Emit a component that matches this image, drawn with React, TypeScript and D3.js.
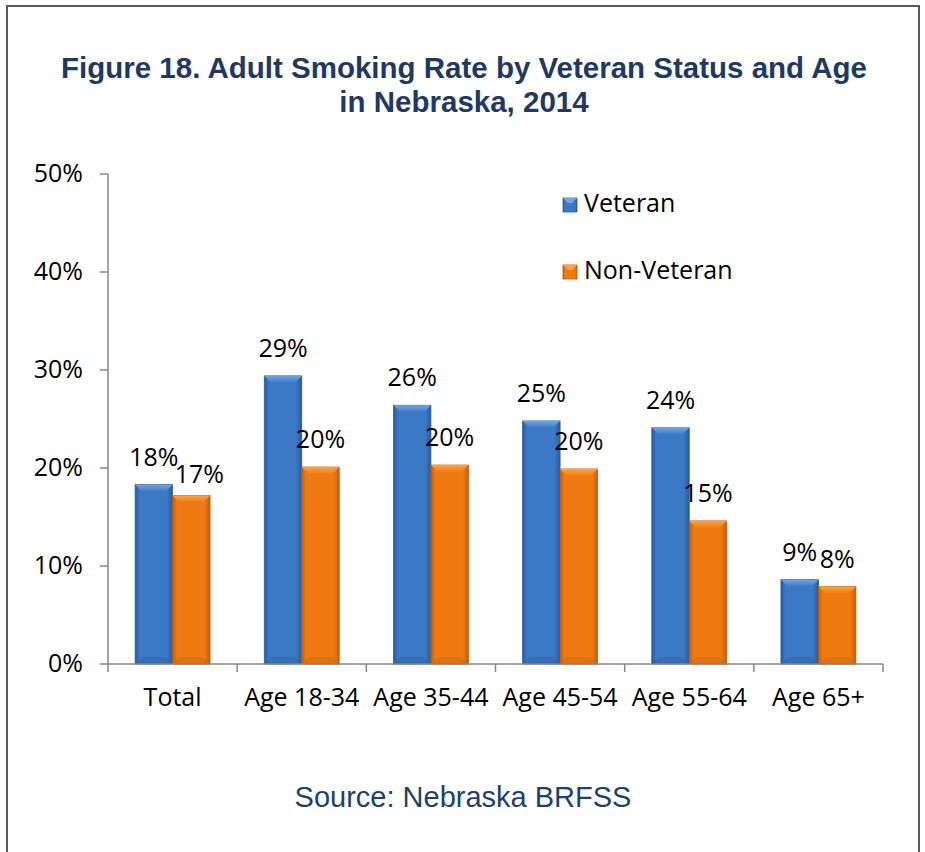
import React from "react";
import * as d3 from "d3";

const categories = ["Total", "Age 18-34", "Age 35-44", "Age 45-54", "Age 55-64", "Age 65+"];
const seriesNames = ["Veteran", "Non-Veteran"];
const veteran = [18.3, 29.4, 26.4, 24.8, 24.1, 8.6];
const nonVeteran = [17.2, 20.1, 20.3, 19.9, 14.6, 7.9];
const yTicks = [0, 10, 20, 30, 40, 50];
const titleLines = ["Figure 18. Adult Smoking Rate by Veteran Status and Age", "in Nebraska, 2014"];
const sourceText = "Source: Nebraska BRFSS";

const W = 925;
const H = 852;
const M = { left: 108, right: 883, top: 174, bottom: 664 };
const LABEL_FONT = "'Open Sans', Lato, sans-serif";
const LABEL_SIZE = 25;
const TITLE_FONT = "'Liberation Sans', Arial, sans-serif";

const palettes = [
  { main: "#3B78C6", dark: "#2A5A9A", light: "#6EA6E6", stroke: "#2C5C96" },
  { main: "#F07A12", dark: "#C55F08", light: "#FAA448", stroke: "#B85A0C" },
];

export default function App() {
  const x0 = d3.scaleBand<string>().domain(categories).range([M.left, M.right]).paddingInner(0.42).paddingOuter(0.21);
  const x1 = d3.scaleBand<string>().domain(seriesNames).range([0, x0.bandwidth()]);
  const y = d3.scaleLinear().domain([0, 50]).range([M.bottom, M.top]);
  const data = [veteran, nonVeteran];
  const step = x0.step();
  const tickXs = d3.range(categories.length + 1).map((i) => M.left + i * step);
  const bev = 7;
  const estW = (s: string) => s.length * LABEL_SIZE * 0.55;

  return (
    <svg width={W} height={H} style={{ position: "absolute", left: 0, top: 0, background: "#fff" }}>
      <defs>
        {palettes.map((p, i) => (
          <g key={i}>
            <linearGradient id={`side${i}`} x1="0" x2="1" y1="0" y2="0">
              <stop offset="0" stopColor={p.dark} />
              <stop offset="0.12" stopColor={p.main} />
              <stop offset="0.85" stopColor={p.main} />
              <stop offset="1" stopColor={p.dark} />
            </linearGradient>
            <linearGradient id={`top${i}`} x1="0" x2="0" y1="0" y2="1">
              <stop offset="0" stopColor={p.light} />
              <stop offset="1" stopColor={p.main} />
            </linearGradient>
          </g>
        ))}
      </defs>
      <rect x={0} y={0} width={W} height={H} fill="#fff" />
      <path d={`M7,${H} V6 H919 V${H}`} fill="none" stroke="#595959" strokeWidth={2} />

      {titleLines.map((t, i) => (
        <text key={i} x={464} y={78 + i * 34} textAnchor="middle" fontFamily={TITLE_FONT} fontWeight="bold" fontSize={29.5} fill="#1F3864">
          {t}
        </text>
      ))}

      {/* y axis */}
      <line x1={M.left} x2={M.left} y1={M.top} y2={M.bottom} stroke="#868686" strokeWidth={1.5} />
      {yTicks.map((t) => (
        <g key={t}>
          <line x1={M.left - 8} x2={M.left} y1={y(t)} y2={y(t)} stroke="#868686" strokeWidth={1.5} />
          <text x={83} y={y(t) + 8} textAnchor="end" fontFamily={LABEL_FONT} fontSize={LABEL_SIZE} fill="#000">
            {t}%
          </text>
        </g>
      ))}

      {/* bars */}
      {categories.map((c, ci) => {
        const labels = data.map((series, si) => {
          const v = series[ci];
          const bx = (x0(c) ?? 0) + (x1(seriesNames[si]) ?? 0);
          return { s: `${Math.round(v)}%`, cx: bx + x1.bandwidth() / 2, by: y(v) - 19 };
        });
        // simple collision avoidance between the two labels of a group
        const [a, b] = labels;
        const overlapX = (estW(a.s) + estW(b.s)) / 2 > b.cx - a.cx;
        const overlapY = Math.abs(a.by - b.by) < LABEL_SIZE * 0.8;
        if (overlapX && overlapY) {
          b.cx += 8;
          b.by += 7;
        }
        return (
          <g key={c}>
            {data.map((series, si) => {
              const v = series[ci];
              const bx = (x0(c) ?? 0) + (x1(seriesNames[si]) ?? 0);
              const bw = x1.bandwidth();
              const by = y(v);
              const bh = y(0) - by;
              const p = palettes[si];
              return (
                <g key={si}>
                  <rect x={bx} y={by} width={bw} height={bh} fill={`url(#side${si})`} stroke={p.stroke} strokeWidth={0.8} />
                  <polygon
                    points={`${bx},${by} ${bx + bw},${by} ${bx + bw - bev},${by + bev} ${bx + bev},${by + bev}`}
                    fill={`url(#top${si})`}
                  />
                  <polygon
                    points={`${bx},${by + bh} ${bx + bw},${by + bh} ${bx + bw - bev},${by + bh - bev} ${bx + bev},${by + bh - bev}`}
                    fill={p.dark}
                    opacity={0.35}
                  />
                  <text x={labels[si].cx} y={labels[si].by} textAnchor="middle" fontFamily={LABEL_FONT} fontSize={LABEL_SIZE} fill="#000">
                    {labels[si].s}
                  </text>
                </g>
              );
            })}
            <text x={(x0(c) ?? 0) + x0.bandwidth() / 2} y={706} textAnchor="middle" fontFamily={LABEL_FONT} fontSize={LABEL_SIZE} fill="#000">
              {c}
            </text>
          </g>
        );
      })}

      {/* x axis */}
      <line x1={M.left} x2={M.right} y1={M.bottom} y2={M.bottom} stroke="#868686" strokeWidth={1.5} />
      {tickXs.map((tx, i) => (
        <line key={i} x1={tx} x2={tx} y1={M.bottom} y2={M.bottom + 8} stroke="#868686" strokeWidth={1.5} />
      ))}

      {/* legend */}
      {seriesNames.map((s, i) => {
        const ly = 198 + i * 67;
        const p = palettes[i];
        return (
          <g key={s}>
            <rect x={563} y={ly} width={14} height={14} fill={`url(#side${i})`} stroke={p.stroke} strokeWidth={0.8} />
            <polygon points={`563,${ly} 577,${ly} 572,${ly + 5} 568,${ly + 5}`} fill={p.light} />
            <text x={584} y={ly + 14} fontFamily={LABEL_FONT} fontSize={LABEL_SIZE} fill="#000">
              {s}
            </text>
          </g>
        );
      })}

      <text x={463} y={807} textAnchor="middle" fontFamily={TITLE_FONT} fontSize={29} fill="#1F3F6E">
        {sourceText}
      </text>
    </svg>
  );
}
